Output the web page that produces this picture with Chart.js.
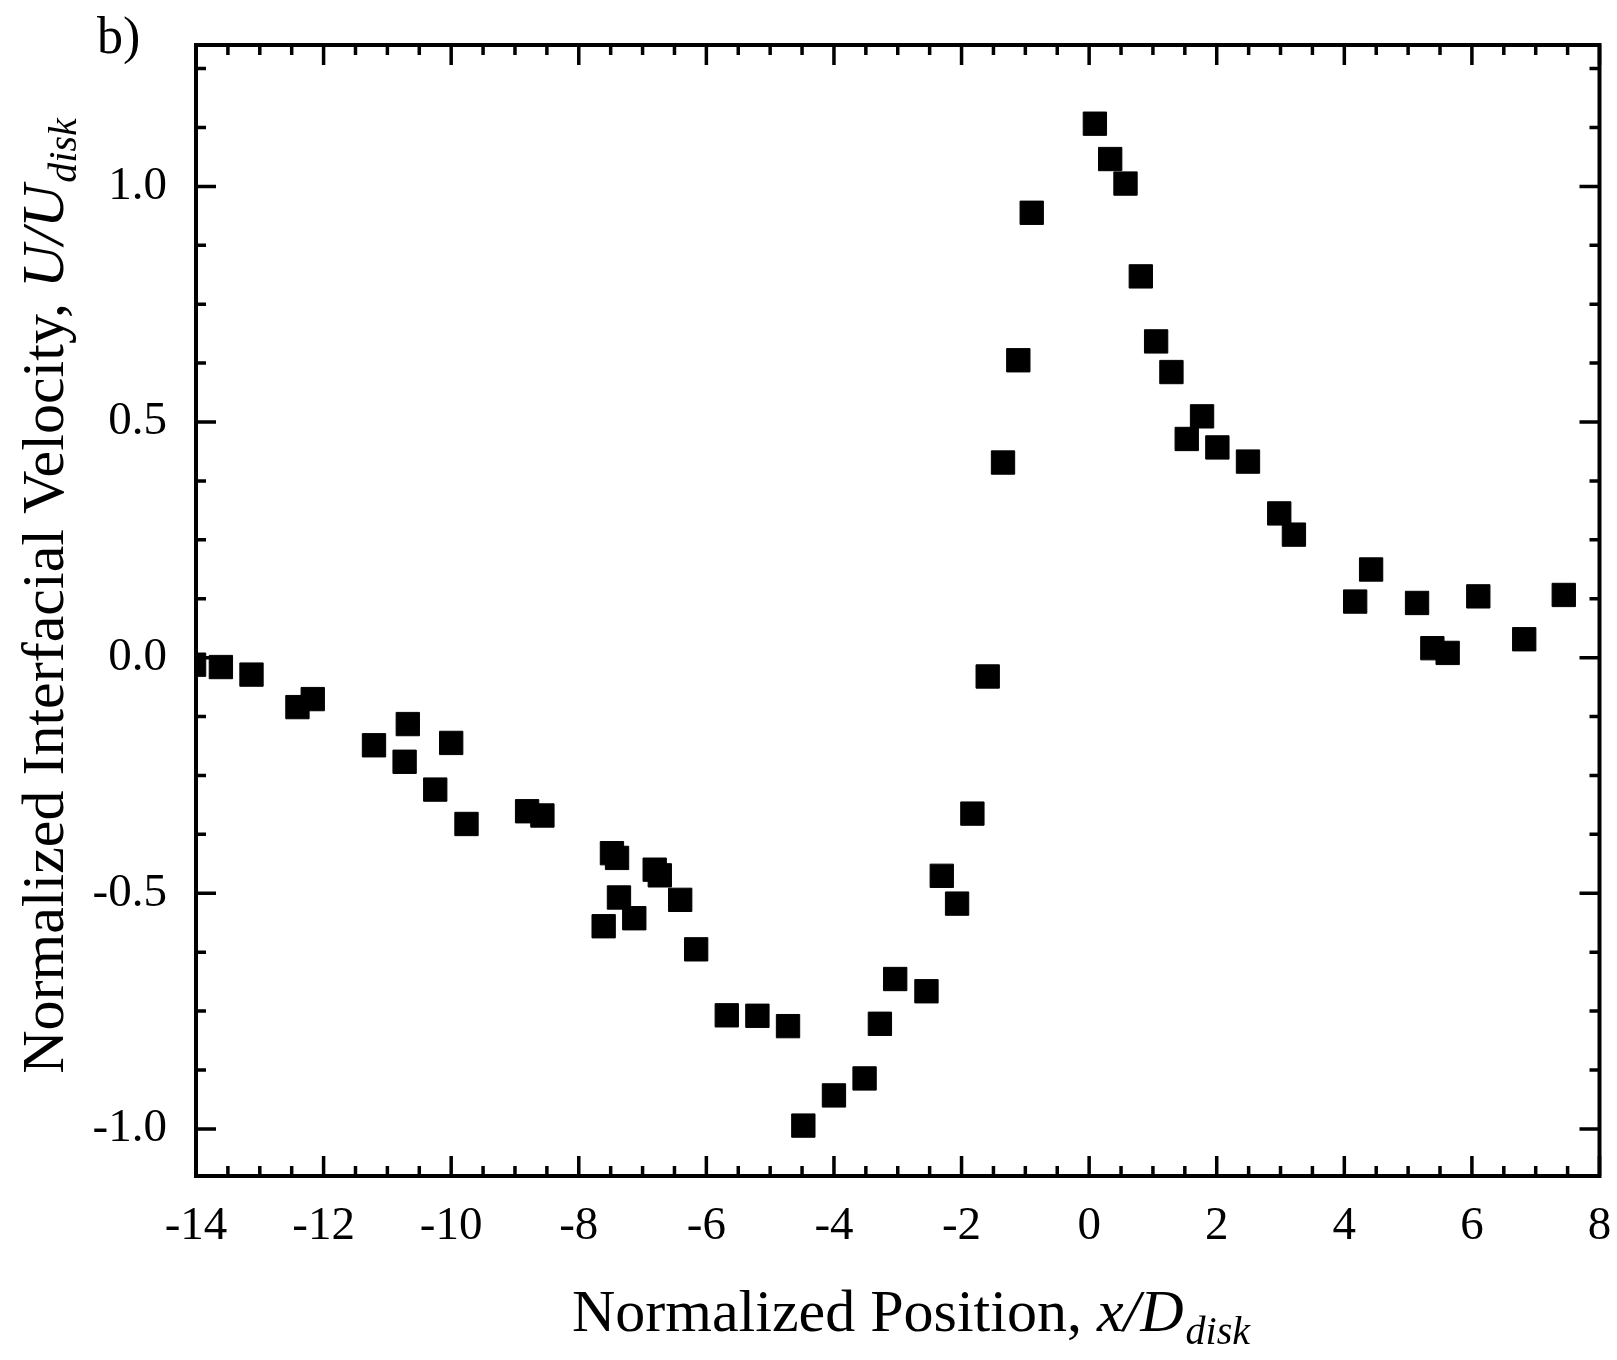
<!DOCTYPE html>
<html>
<head>
<meta charset="utf-8">
<script src="https://cdn.jsdelivr.net/npm/chart.js@4/dist/chart.umd.min.js"></script>
<style>
  html, body { margin: 0; padding: 0; background: #fff; }
  canvas { display: block; }
</style>
</head>
<body>
<canvas id="c" width="1617" height="1360"></canvas>
<script>
// ---- data ----
const xPos = [
  -14.03, -13.61, -13.13, -12.41, -12.17, -11.21, -10.73, -10.68, -10.25, -10.00,
  -9.76, -8.81, -8.57, -7.61, -7.48, -7.40, -7.37, -7.13, -6.81, -6.73,
  -6.41, -6.16, -5.68, -5.20, -4.72, -4.48, -4.00, -3.52, -3.28, -3.04,
  -2.55, -2.31, -2.07, -1.83, -1.59, -1.35, -1.11, -0.90, 0.09, 0.33,
  0.57, 0.81, 1.05, 1.29, 1.53, 1.77, 2.01, 2.49, 2.98, 3.21,
  4.17, 4.42, 5.14, 5.38, 5.62, 6.10, 6.82, 7.44
];
const uVel = [
  -0.015, -0.020, -0.036, -0.105, -0.088, -0.186, -0.221, -0.141, -0.280, -0.181,
  -0.353, -0.326, -0.335, -0.570, -0.415, -0.425, -0.509, -0.553, -0.450, -0.462,
  -0.514, -0.619, -0.759, -0.760, -0.782, -0.993, -0.929, -0.893, -0.777, -0.682,
  -0.708, -0.463, -0.522, -0.331, -0.040, 0.414, 0.631, 0.944, 1.133, 1.058,
  1.006, 0.809, 0.671, 0.606, 0.464, 0.512, 0.446, 0.416, 0.306, 0.261,
  0.119, 0.187, 0.116, 0.020, 0.010, 0.130, 0.039, 0.133
];
const xTicks = [-14, -12, -10, -8, -6, -4, -2, 0, 2, 4, 6, 8];
const yTicks = [-1.0, -0.5, 0.0, 0.5, 1.0];
const xMinorStep = 0.5;
const yMinorStep = 0.125;
const panelLabel = 'b)';
const xTitleParts = [
  { t: 'Normalized Position, ', it: false, sub: false },
  { t: 'x/D', it: true, sub: false },
  { t: 'disk', it: true, sub: true }
];
const yTitleParts = [
  { t: 'Normalized Interfacial Velocity, ', it: false, sub: false },
  { t: 'U/U', it: true, sub: false },
  { t: 'disk', it: true, sub: true }
];

const points = xPos.map((x, i) => ({ x: x, y: uVel[i] }));
const FONT = '"Liberation Serif", "Times New Roman", serif';

function richWidth(ctx, parts, size, subSize) {
  let w = 0;
  for (const p of parts) {
    ctx.font = (p.it ? 'italic ' : '') + (p.sub ? subSize : size) + 'px ' + FONT;
    w += ctx.measureText(p.t).width + (p.sub ? 2 : 0);
  }
  return w;
}
function drawRich(ctx, parts, x, y, size, subSize, subShift) {
  let cx = x;
  for (const p of parts) {
    ctx.font = (p.it ? 'italic ' : '') + (p.sub ? subSize : size) + 'px ' + FONT;
    ctx.fillText(p.t, cx + (p.sub ? 2 : 0), y + (p.sub ? subShift : 0));
    cx += ctx.measureText(p.t).width + (p.sub ? 2 : 0);
  }
}
function zeroPad(s) {
  s.paddingTop = 0; s.paddingBottom = 0; s.paddingLeft = 0; s.paddingRight = 0;
}

const framePlugin = {
  id: 'frame',
  beforeDraw(chart) {
    const ctx = chart.ctx;
    ctx.save();
    ctx.fillStyle = '#fff';
    ctx.fillRect(0, 0, chart.width, chart.height);
    ctx.restore();
  },
  afterDraw(chart) {
    const ctx = chart.ctx;
    const a = chart.chartArea;
    const xs = chart.scales.x, ys = chart.scales.y;
    ctx.save();
    ctx.strokeStyle = '#000';
    ctx.lineCap = 'butt';
    ctx.lineWidth = 3.5;
    const majLen = 20, minLen = 10;
    const eps = 1e-6;
    for (let v = xs.min; v <= xs.max + eps; v += xMinorStep) {
      const isMaj = xTicks.some(t => Math.abs(t - v) < eps);
      const len = isMaj ? majLen : minLen;
      const px = xs.getPixelForValue(v);
      ctx.beginPath();
      ctx.moveTo(px, a.bottom); ctx.lineTo(px, a.bottom - len);
      ctx.moveTo(px, a.top); ctx.lineTo(px, a.top + len);
      ctx.stroke();
    }
    const yStart = Math.ceil((ys.min - eps) / yMinorStep) * yMinorStep;
    for (let v = yStart; v <= ys.max + eps; v += yMinorStep) {
      const isMaj = yTicks.some(t => Math.abs(t - v) < eps);
      const len = isMaj ? majLen : minLen;
      const py = ys.getPixelForValue(v);
      ctx.beginPath();
      ctx.moveTo(a.left, py); ctx.lineTo(a.left + len, py);
      ctx.moveTo(a.right, py); ctx.lineTo(a.right - len, py);
      ctx.stroke();
    }
    ctx.lineWidth = 4;
    ctx.strokeRect(a.left, a.top, a.right - a.left, a.bottom - a.top);

    ctx.fillStyle = '#000';
    ctx.textBaseline = 'alphabetic';
    ctx.textAlign = 'left';
    const size = 60, subSize = 40, subShift = 13;
    const wx = richWidth(ctx, xTitleParts, size, subSize);
    drawRich(ctx, xTitleParts, 911 - wx / 2, 1331, size, subSize, subShift);
    const wy = richWidth(ctx, yTitleParts, size, subSize);
    ctx.save();
    ctx.translate(63, 596);
    ctx.rotate(-Math.PI / 2);
    drawRich(ctx, yTitleParts, -wy / 2, 0, size, subSize, subShift);
    ctx.restore();
    ctx.font = '52px ' + FONT;
    ctx.fillText(panelLabel, 97, 53);
    ctx.restore();
  }
};

new Chart(document.getElementById('c'), {
  type: 'scatter',
  data: {
    datasets: [{
      data: points,
      pointStyle: 'rect',
      pointRadius: 16.5,
      pointHoverRadius: 16.5,
      backgroundColor: '#000',
      borderColor: '#000',
      borderWidth: 1,
      clip: 0
    }]
  },
  options: {
    responsive: false,
    animation: false,
    events: [],
    layout: { padding: { top: 45, right: 16, left: 0, bottom: 0 } },
    plugins: { legend: { display: false }, tooltip: { enabled: false }, title: { display: false } },
    scales: {
      x: {
        type: 'linear',
        min: -14, max: 8,
        grid: { display: false, drawTicks: false },
        border: { display: false },
        afterBuildTicks: (s) => { s.ticks = xTicks.map(v => ({ value: v })); },
        afterFit: (s) => { s.height = 184; zeroPad(s); },
        ticks: {
          autoSkip: false, maxRotation: 0, padding: 22, color: '#000',
          font: { family: FONT, size: 47 },
          callback: (v) => String(v)
        }
      },
      y: {
        type: 'linear',
        min: -1.1, max: 1.3,
        grid: { display: false, drawTicks: false },
        border: { display: false },
        afterBuildTicks: (s) => { s.ticks = yTicks.map(v => ({ value: v })); },
        afterFit: (s) => { s.width = 196; zeroPad(s); },
        ticks: {
          autoSkip: false, padding: 29, color: '#000',
          font: { family: FONT, size: 47 },
          callback: (v) => Number(v).toFixed(1)
        }
      }
    }
  },
  plugins: [framePlugin]
});
</script>
</body>
</html>
